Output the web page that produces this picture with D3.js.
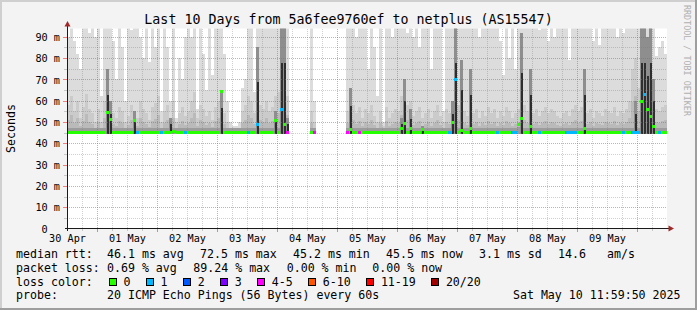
<!DOCTYPE html>
<html>
<head>
<meta charset="utf-8">
<script src="https://cdn.jsdelivr.net/npm/d3@7"></script>
<style>
  body { margin: 0; background: #fff; }
  svg { display: block; }
  text { font-family: "DejaVu Sans Mono", monospace; fill: #000; white-space: pre; }
</style>
</head>
<body>
<svg id="chart" width="697" height="310"></svg>
<script>
// smokeping "last 10 days" graph, 200 columns of 1.2 h each
// 0 in the arrays = no data for that column

var width = 697,
    height = 310;

var titleText = 'Last 10 Days from 5a6fee9760ef to netplus (AS15547)';
var dayLabels = ['30 Apr', '01 May', '02 May', '03 May', '04 May', '05 May', '06 May', '07 May', '08 May', '09 May'];
var yTicks = [0, 10, 20, 30, 40, 50, 60, 70, 80, 90];
var yTickLabels = ['0', '10 m', '20 m', '30 m', '40 m', '50 m', '60 m', '70 m', '80 m', '90 m'];
var yMinor = [5, 15, 25, 35, 45, 55, 65, 75, 85];

var rttFloor = 44.2; // lowest ping (ms)

// top of the smoke = slowest ping (ms), 100 means off the chart
var smokeTop = [
  90, 100, 88, 82, 75, 100, 95, 92, 100, 90,
  100, 62, 100, 100, 100, 88, 70, 100, 85, 60,
  100, 93, 100, 100, 90, 80, 100, 78, 100, 85,
  100, 55, 100, 85, 60, 100, 52, 80, 70, 90,
  100, 90, 100, 56, 100, 82, 65, 100, 72, 100,
  100, 100, 82, 60, 50, 48, 48, 50, 66, 70,
  100, 100, 64, 100, 100, 100, 100, 100, 100, 100,
  100, 100, 100, 100, 0, 0, 0, 0, 0, 0,
  0, 100, 60, 0, 0, 0, 0, 0, 0, 0,
  0, 0, 0, 100, 100, 100, 90, 100, 100, 100,
  75, 100, 85, 62, 100, 50, 100, 100, 90, 100,
  100, 100, 100, 92, 100, 90, 100, 85, 100, 100,
  100, 75, 100, 95, 100, 55, 100, 100, 100, 100,
  100, 100, 100, 94, 100, 100, 100, 90, 100, 100,
  100, 96, 100, 100, 88, 72, 100, 80, 100, 75,
  100, 100, 100, 95, 100, 100, 100, 93, 100, 100,
  88, 100, 90, 100, 97, 100, 100, 79, 100, 100,
  100, 100, 100, 100, 100, 88, 100, 86, 100, 100,
  100, 94, 100, 90, 100, 92, 100, 100, 100, 100,
  100, 100, 100, 100, 100, 100, 81, 85, 88, 82
];

// top of the denser grey part (ms)
var smokeMid = [
  58, 62, 55, 60, 52, 57, 63, 56, 54, 50,
  56, 50, 60, 66, 58, 54, 52, 57, 55, 50,
  53, 58, 55, 52, 60, 56, 54, 51, 57, 59,
  62, 50, 55, 58, 52, 60, 50, 54, 57, 53,
  55, 60, 64, 52, 58, 56, 53, 55, 51, 57,
  60, 65, 54, 50, 47, 47, 47, 47, 55, 58,
  62, 60, 54, 66, 58, 56, 60, 55, 57, 62,
  64, 70, 72, 62, 0, 0, 0, 0, 0, 0,
  0, 55, 50, 0, 0, 0, 0, 0, 0, 0,
  0, 0, 0, 55, 60, 58, 54, 57, 52, 56,
  54, 58, 53, 50, 55, 48, 57, 52, 54, 56,
  55, 62, 64, 58, 60, 53, 55, 57, 52, 54,
  56, 52, 55, 58, 53, 50, 56, 54, 60, 68,
  58, 62, 55, 53, 60, 54, 56, 52, 55, 53,
  57, 54, 56, 52, 55, 53, 57, 55, 52, 54,
  56, 64, 58, 55, 60, 54, 56, 53, 55, 57,
  54, 56, 55, 53, 52, 54, 55, 53, 56, 58,
  55, 57, 62, 54, 56, 52, 55, 54, 53, 56,
  55, 54, 57, 53, 55, 54, 56, 60, 75, 80,
  66, 80, 84, 78, 82, 60, 56, 55, 57, 58
];

// dark spikes: all pings spread high (ms), 0 = none
var darkTop = [
  0, 0, 0, 0, 0, 0, 0, 0, 0, 0,
  0, 0, 0, 75, 60, 0, 0, 0, 0, 0,
  0, 0, 55, 0, 0, 0, 0, 0, 0, 0,
  0, 0, 0, 0, 52, 0, 0, 0, 0, 0,
  0, 0, 0, 0, 0, 0, 0, 0, 0, 0,
  0, 65, 0, 0, 0, 0, 0, 0, 0, 0,
  0, 0, 0, 85, 0, 0, 0, 0, 0, 55,
  0, 100, 100, 52, 0, 0, 0, 0, 0, 0,
  0, 0, 0, 0, 0, 0, 0, 0, 0, 0,
  0, 0, 0, 0, 66, 0, 0, 0, 0, 0,
  0, 0, 0, 0, 0, 0, 0, 0, 0, 0,
  0, 52, 70, 0, 56, 0, 0, 0, 48, 0,
  0, 0, 0, 0, 0, 0, 0, 0, 60, 100,
  0, 79, 0, 0, 75, 0, 0, 0, 0, 0,
  0, 0, 0, 0, 0, 0, 0, 0, 0, 0,
  0, 92, 0, 0, 75, 0, 0, 0, 0, 0,
  0, 0, 0, 0, 0, 0, 0, 0, 0, 0,
  0, 0, 75, 0, 0, 0, 0, 0, 0, 0,
  0, 0, 0, 0, 0, 0, 0, 0, 0, 60,
  0, 100, 100, 90, 100, 70, 0, 0, 0, 0
];

// median rtt (ms)
var medianRtt = [
  45.4, 45.3, 45.4, 45.5, 45.3, 45.4, 45.4, 45.5, 45.3, 45.4,
  45.4, 45.5, 45.3, 54.5, 51.5, 45.4, 45.3, 45.5, 45.4, 45.3,
  45.5, 45.4, 51, 45.3, 45.4, 45.5, 45.3, 45.4, 45.3, 45.5,
  45.4, 45.3, 45.5, 45.4, 45.3, 45.6, 45.4, 45.3, 45.5, 45.4,
  45.3, 45.4, 45.5, 45.3, 45.4, 45.4, 45.5, 45.3, 45.4, 45.5,
  45.4, 64.4, 45.5, 45.3, 45.4, 45.4, 45.3, 45.5, 45.4, 45.3,
  45.4, 45.5, 45.3, 49, 45.4, 45.5, 45.3, 45.4, 45.3, 51,
  45.4, 56, 49, 45.5, 0, 0, 0, 0, 0, 0,
  0, 45.4, 45.5, 0, 0, 0, 0, 0, 0, 0,
  0, 0, 0, 45.5, 46.7, 45.4, 45.3, 45.4, 45.5, 45.4,
  45.3, 45.4, 45.5, 45.3, 45.4, 45.3, 45.4, 45.5, 45.4, 45.3,
  45.4, 47, 49.5, 45.3, 47, 45.4, 45.5, 45.3, 46.5, 45.4,
  45.3, 45.4, 45.5, 45.4, 45.3, 45.4, 45.5, 45.3, 50, 70,
  45.4, 46.2, 45.5, 45.3, 47, 45.4, 45.3, 45.5, 45.4, 45.3,
  45.4, 45.5, 45.3, 45.4, 45.4, 45.3, 45.5, 45.4, 45.3, 45.4,
  49, 52, 45.4, 45.3, 48, 45.5, 45.4, 45.3, 45.4, 45.5,
  45.3, 45.4, 45.5, 45.3, 45.4, 45.3, 45.4, 45.5, 45.4, 45.3,
  45.4, 45.5, 47, 45.3, 45.4, 45.5, 45.3, 45.4, 45.5, 45.4,
  45.3, 45.4, 45.5, 45.4, 45.3, 45.4, 45.5, 45.3, 45.4, 45.5,
  45.4, 60, 63, 56, 53, 48, 45.4, 45.5, 45.3, 45.4
];

// packet loss bucket per column (index into lossLabels)
var lossIdx = [
  0, 0, 0, 0, 0, 0, 0, 0, 0, 0,
  0, 0, 0, 0, 0, 0, 0, 0, 0, 0,
  0, 0, 0, 1, 0, 0, 0, 0, 0, 0,
  0, 1, 0, 0, 0, 0, 0, 0, 0, 1,
  0, 0, 0, 0, 0, 0, 0, 0, 0, 0,
  0, 0, 0, 0, 0, 0, 0, 0, 0, 0,
  1, 0, 0, 1, 0, 0, 0, 0, 0, 0,
  0, 1, 0, 4, 0, 0, 0, 0, 0, 0,
  0, 0, 4, 0, 0, 0, 0, 0, 0, 0,
  0, 0, 0, 4, 0, 0, 0, 4, 0, 0,
  0, 0, 0, 0, 0, 0, 0, 0, 0, 0,
  0, 0, 0, 0, 0, 0, 0, 0, 0, 0,
  0, 0, 0, 0, 0, 0, 0, 1, 0, 1,
  0, 0, 0, 0, 0, 0, 0, 0, 0, 0,
  0, 0, 0, 1, 0, 0, 0, 0, 1, 1,
  0, 0, 0, 0, 0, 0, 0, 1, 0, 0,
  0, 0, 0, 0, 0, 0, 1, 1, 1, 1,
  0, 0, 0, 0, 0, 0, 0, 0, 0, 0,
  0, 0, 0, 0, 0, 1, 0, 0, 1, 1,
  1, 0, 1, 0, 0, 0, 0, 1, 0, 0
];

var lossLabels = ['0', '1', '2', '3', '4-5', '6-10', '11-19', '20/20'];
var lossColors = ['#26ff00', '#00b8ff', '#0059ff', '#7e00ff', '#ff00ff', '#ff5500', '#ff0000', '#a00000'];

var statRtt = ['46.1 ms avg', '72.5 ms max', '45.2 ms min', '45.5 ms now', '3.1 ms sd', '14.6', 'am/s'];
var statLoss = ['0.69 % avg', '89.24 % max', '0.00 % min', '0.00 % now'];
var probeText = '20 ICMP Echo Pings (56 Bytes) every 60s';
var stampText = 'Sat May 10 11:59:50 2025';
var watermark = 'RRDTOOL / TOBI OETIKER';

var startTime = Date.UTC(2025, 3, 30, 12, 0, 0),
    endTime = Date.UTC(2025, 4, 10, 12, 0, 0),
    stepMs = (endTime - startTime) / smokeTop.length;

var svg = d3.select('#chart');

// background + 3d frame
svg.append('rect').attr('width', width).attr('height', height).attr('fill', '#f3f3f3');
svg.append('rect').attr('x', 0).attr('y', 0).attr('width', width).attr('height', 2).attr('fill', '#cfcfcf');
svg.append('rect').attr('x', 0).attr('y', 0).attr('width', 2).attr('height', height).attr('fill', '#cfcfcf');
svg.append('rect').attr('x', 0).attr('y', height - 2).attr('width', width).attr('height', 2).attr('fill', '#9e9e9e');
svg.append('rect').attr('x', width - 2).attr('y', 0).attr('width', 2).attr('height', height).attr('fill', '#9e9e9e');

const x = d3.scaleUtc()
  .domain([startTime, endTime])
  .range([67, 667]);

const y = d3.scaleLinear()
  .domain([0, 93.9])
  .range([228.5, 28.5]);

svg.append('rect')
  .attr('x', 67).attr('y', 28.5).attr('width', 600).attr('height', 200)
  .attr('fill', '#fff');

svg.append('clipPath').attr('id', 'plotClip')
  .append('rect').attr('x', 67).attr('y', 28.5).attr('width', 600).attr('height', 200);

var cols = smokeTop.map(function(hi, i) {
  return { i: i, hi: hi, mid: smokeMid[i], dark: darkTop[i], med: medianRtt[i], loss: lossIdx[i] };
});

function colX(i) { return x(startTime + i * stepMs); }
function colW(i) { return colX(i + 1) - colX(i); }

var smoke = svg.append('g')
  .attr('clip-path', 'url(#plotClip)')
  .attr('shape-rendering', 'crispEdges');

function band(cls, rows, topFn, color, inset) {
  inset = inset || 0;
  smoke.selectAll('rect.' + cls)
    .data(rows)
    .enter()
    .append('rect')
      .attr('class', cls)
      .attr('x', d => colX(d.i) + inset)
      .attr('width', d => colW(d.i) - inset)
      .attr('y', d => y(Math.min(topFn(d), 100)))
      .attr('height', d => y(rttFloor) - y(Math.min(topFn(d), 100)))
      .attr('fill', color);
}

var withData = cols.filter(d => d.hi > 0);
band('light', withData, d => d.hi, '#dcdcdc');
band('mid', withData, d => d.mid, '#cbcbcb');
band('mid2', withData, d => (d.mid + rttFloor) / 2, '#bababa');
band('core', withData.filter(d => d.med > 0), d => Math.min(d.med, 46) + 1.8, '#9c9c9c');

var spikes = cols.filter(d => d.dark > 0);
band('darkhi', spikes, d => d.dark, '#8e8e8e');
band('darklo', spikes, d => rttFloor + (d.dark - rttFloor) * 0.6, '#2e2e2e', 1);

// grid (drawn over the smoke like rrdtool does)
var grid = svg.append('g').attr('shape-rendering', 'crispEdges');
var minorHours = d3.utcHour.every(6).range(new Date(startTime + 1), new Date(endTime))
  .filter(d => d.getUTCHours() !== 0);
var dayLines = d3.utcDay.range(new Date(startTime), new Date(endTime));

grid.selectAll('line.vmin').data(minorHours).enter().append('line')
  .attr('x1', d => Math.round(x(d)) + 0.5).attr('x2', d => Math.round(x(d)) + 0.5)
  .attr('y1', 28.5).attr('y2', 228.5)
  .attr('stroke', 'rgba(120,120,120,0.35)').attr('stroke-dasharray', '1,1');
grid.selectAll('line.hmin').data(yMinor).enter().append('line')
  .attr('x1', 67).attr('x2', 667)
  .attr('y1', d => Math.round(y(d)) + 0.5).attr('y2', d => Math.round(y(d)) + 0.5)
  .attr('stroke', 'rgba(120,120,120,0.35)').attr('stroke-dasharray', '1,1');
grid.selectAll('line.vmaj').data(dayLines).enter().append('line')
  .attr('x1', d => Math.round(x(d)) + 0.5).attr('x2', d => Math.round(x(d)) + 0.5)
  .attr('y1', 28.5).attr('y2', 228.5)
  .attr('stroke', 'rgba(235,60,60,0.5)').attr('stroke-dasharray', '1,1');
grid.selectAll('line.hmaj').data(yTicks.slice(1)).enter().append('line')
  .attr('x1', 67).attr('x2', 667)
  .attr('y1', d => Math.round(y(d)) + 0.5).attr('y2', d => Math.round(y(d)) + 0.5)
  .attr('stroke', 'rgba(235,60,60,0.5)').attr('stroke-dasharray', '1,1');

// small ticks outside the plot
grid.selectAll('line.tmin').data(minorHours).enter().append('line')
  .attr('x1', d => Math.round(x(d)) + 0.5).attr('x2', d => Math.round(x(d)) + 0.5)
  .attr('y1', 229).attr('y2', 231).attr('stroke', '#c8c8c8');
grid.selectAll('line.tmaj').data(dayLines).enter().append('line')
  .attr('x1', d => Math.round(x(d)) + 0.5).attr('x2', d => Math.round(x(d)) + 0.5)
  .attr('y1', 229).attr('y2', 232).attr('stroke', '#f08080');
grid.selectAll('line.ymin').data(yMinor).enter().append('line')
  .attr('x1', 64).attr('x2', 67)
  .attr('y1', d => Math.round(y(d)) + 0.5).attr('y2', d => Math.round(y(d)) + 0.5)
  .attr('stroke', '#c8c8c8');
grid.selectAll('line.ymaj').data(yTicks.slice(1)).enter().append('line')
  .attr('x1', 63).attr('x2', 67)
  .attr('y1', d => Math.round(y(d)) + 0.5).attr('y2', d => Math.round(y(d)) + 0.5)
  .attr('stroke', '#f08080');

// median, coloured by loss
svg.append('g')
  .attr('clip-path', 'url(#plotClip)')
  .attr('shape-rendering', 'crispEdges')
  .selectAll('rect')
  .data(cols.filter(d => d.med > 0))
  .enter()
  .append('rect')
    .attr('x', d => colX(d.i))
    .attr('width', d => colW(d.i))
    .attr('y', d => Math.round(y(d.med)) - 1.5)
    .attr('height', 3)
    .attr('fill', d => lossColors[d.loss]);

// axes lines + arrows
svg.append('line').attr('x1', 65).attr('x2', 670).attr('y1', 228.5).attr('y2', 228.5)
  .attr('stroke', '#1a1a1a');
svg.append('line').attr('x1', 67.5).attr('x2', 67.5).attr('y1', 231).attr('y2', 24)
  .attr('stroke', '#1a1a1a');
svg.append('path').attr('d', 'M64.5,26.5 L70.5,26.5 L67.5,21 Z').attr('fill', '#a02828');
svg.append('path').attr('d', 'M668.5,225.5 L668.5,231.5 L674,228.5 Z').attr('fill', '#a02828');

// Y axis labels ("0" sits under the digits, not under the unit)
var yAxis = svg.append('g')
  .attr('transform', 'translate(67,0)')
  .call(d3.axisLeft(y).tickValues(yTicks).tickFormat((d, i) => yTickLabels[i]).tickSize(0).tickPadding(7));
yAxis.select('.domain').remove();
yAxis.selectAll('text')
  .attr('dy', '0.36em')
  .attr('dx', (d, i) => i === 0 ? -12.3 : 0)
  .style('font-family', '"DejaVu Sans Mono", monospace')
  .style('font-size', '10.2px')
  .attr('fill', '#000');

// X axis labels at noon of each day
var noonTicks = dayLabels.map((d, i) => new Date(startTime + i * 86400000));
var xAxis = svg.append('g')
  .attr('transform', 'translate(0,228.5)')
  .call(d3.axisBottom(x).tickValues(noonTicks).tickFormat((d, i) => dayLabels[i]).tickSize(0).tickPadding(5.8));
xAxis.select('.domain').remove();
xAxis.selectAll('text')
  .style('font-family', '"DejaVu Sans Mono", monospace')
  .style('font-size', '10.2px')
  .attr('fill', '#000');

// title, y title, watermark
svg.append('text')
  .attr('x', 348.5).attr('y', 24)
  .style('text-anchor', 'middle')
  .style('font-size', '13.3px')
  .text(titleText);

svg.append('text')
  .attr('transform', 'translate(14.5,128.5) rotate(-90)')
  .style('text-anchor', 'middle')
  .style('font-size', '11.6px')
  .text('Seconds');

svg.append('text')
  .attr('transform', 'translate(683.5,5) rotate(90)')
  .style('font-size', '8.4px')
  .style('fill', '#b0b0b0')
  .text(watermark);

// legend
var legend = svg.append('g').style('font-size', '11.6px');
var rowY = [258.3, 272, 285.7, 299.4];
var rttX = [107, 200, 293, 386, 479, 558, 607];
var lossX = [107, 193.3, 286.7, 372.3];

legend.append('text').attr('x', 16).attr('y', rowY[0]).text('median rtt:');
legend.selectAll('text.rtt').data(statRtt).enter().append('text')
  .attr('class', 'rtt').attr('x', (d, i) => rttX[i]).attr('y', rowY[0]).text(d => d);

legend.append('text').attr('x', 16).attr('y', rowY[1]).text('packet loss:');
legend.selectAll('text.pl').data(statLoss).enter().append('text')
  .attr('class', 'pl').attr('x', (d, i) => lossX[i]).attr('y', rowY[1]).text(d => d);

legend.append('text').attr('x', 16).attr('y', rowY[2]).text('loss color:');
var charW = 6.98;
var boxX = [];
lossLabels.reduce(function(pos, lbl) {
  boxX.push(pos);
  return pos + 15 + lbl.length * charW + 15.1;
}, 108.5);
var items = legend.selectAll('g.li').data(lossLabels).enter().append('g').attr('class', 'li');
items.append('rect')
  .attr('x', (d, i) => Math.round(boxX[i]) + 0.5).attr('y', 278.5)
  .attr('width', 7).attr('height', 7)
  .attr('fill', (d, i) => lossColors[i])
  .attr('stroke', '#000');
items.append('text')
  .attr('x', (d, i) => boxX[i] + 15).attr('y', rowY[2])
  .text(d => d);

legend.append('text').attr('x', 16).attr('y', rowY[3]).text('probe:');
legend.append('text').attr('x', 107).attr('y', rowY[3]).text(probeText);
legend.append('text').attr('x', 680.5).attr('y', rowY[3]).style('text-anchor', 'end').text(stampText);
</script>
</body>
</html>
